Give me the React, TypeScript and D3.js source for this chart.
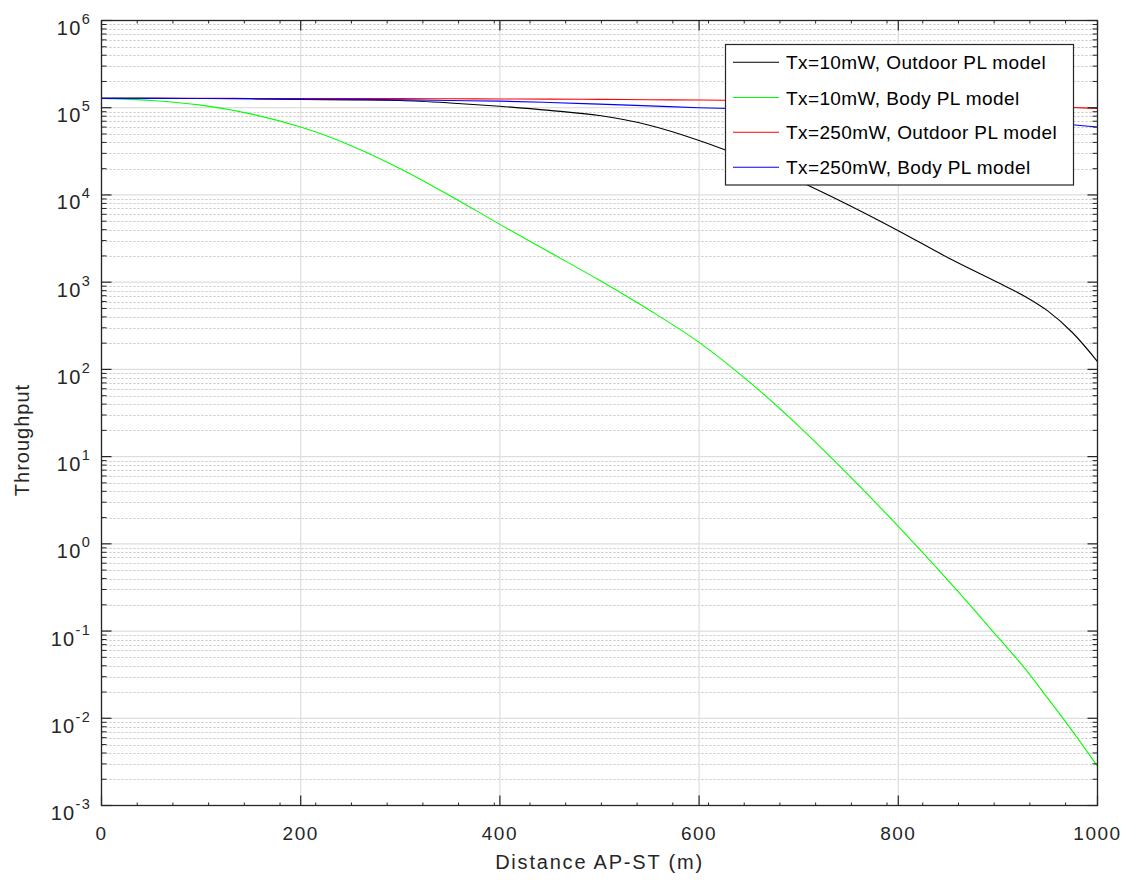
import React from "react";
import * as d3 from "d3";

const distance = [0, 50, 100, 150, 200, 250, 300, 350, 400, 450, 500, 550, 600, 650, 700, 750, 800, 850, 900, 925, 950, 975, 1000];

const tx10Outdoor = [127900, 127900, 127600, 126500, 124500, 123000, 121100, 113500, 104000, 93300, 81300, 63100, 42200, 25700, 14450, 7670, 3890, 1905, 990, 708, 468, 263, 123];
const tx10Body = [128000, 121000, 107000, 85000, 60000, 37000, 20000, 9800, 4600, 2200, 1050, 479, 204, 72.4, 22.4, 6.17, 1.585, 0.38, 0.085, 0.0398, 0.017, 0.00708, 0.00282];
const tx250Outdoor = [128000, 128000, 128000, 127800, 127500, 127200, 127000, 126500, 126000, 125500, 124500, 123500, 122500, 121000, 119000, 117000, 114000, 111000, 107000, 105000, 103000, 100500, 98000];
const tx250Body = [128000, 128000, 127500, 127000, 125500, 124500, 123000, 121000, 119000, 115000, 110000, 105000, 100000, 96500, 93000, 89000, 85000, 80000, 74000, 70800, 67500, 63800, 60000];

const seriesNames = [
  "Tx=10mW, Outdoor PL model",
  "Tx=10mW, Body PL model",
  "Tx=250mW, Outdoor PL model",
  "Tx=250mW, Body PL model",
];
const seriesColors = ["#000000", "#00ff00", "#ff0000", "#0000ff"];
const seriesValues = [tx10Outdoor, tx10Body, tx250Outdoor, tx250Body];

const xTicks = [0, 200, 400, 600, 800, 1000];
const yExponents = [-3, -2, -1, 0, 1, 2, 3, 4, 5, 6];
const xLabel = "Distance AP-ST (m)";
const yLabel = "Throughput";

const W = 1131;
const H = 884;
const L = 101.5, R = 1097.5, T = 20.5, B = 805.5;
const axisColor = "#262626";
const FONT = "'Liberation Sans', Arial, Helvetica, sans-serif";

export default function App() {
  const x = d3.scaleLinear().domain([0, 1000]).range([L, R]);
  const y = d3.scaleLog().domain([1e-3, 1e6]).range([B, T]);

  const minorY: number[] = [];
  yExponents.slice(0, -1).forEach((e) => {
    for (let k = 2; k <= 9; k++) minorY.push(k * Math.pow(10, e));
  });
  const minorX = d3.range(35.85, 1000, 35.85);

  const line = d3
    .line<[number, number]>()
    .x((d) => x(d[0]))
    .y((d) => y(d[1]))
    .curve(d3.curveCatmullRom.alpha(0.5));

  const legX = 725.5, legY = 44.5, legW = 348, legH = 140.5;
  const rowY = [62.3, 97.5, 132.3, 167.3];

  return (
    <svg width={W} height={H} style={{ position: "absolute", left: 0, top: 0, background: "#fff" }} fontFamily={FONT}>
      <rect x={0} y={0} width={W} height={H} fill="#fff" />
      <rect x={L} y={T} width={R - L} height={B - T} fill="#fff" />
      {minorY.map((v, i) => (
        <line key={"mg" + i} x1={L} x2={R} y1={Math.round(y(v)) + 0.5} y2={Math.round(y(v)) + 0.5} stroke="#c4c4c4" strokeWidth={1} strokeDasharray="2,2" />
      ))}
      {yExponents.map((e) => (
        <line key={"yg" + e} x1={L} x2={R} y1={y(Math.pow(10, e))} y2={y(Math.pow(10, e))} stroke="#dedede" strokeWidth={1.2} />
      ))}
      {xTicks.map((t) => (
        <line key={"xg" + t} x1={x(t)} x2={x(t)} y1={T} y2={B} stroke="#dedede" strokeWidth={1.2} />
      ))}
      {seriesValues.map((vals, si) => (
        <path
          key={"s" + si}
          d={line(distance.map((d, i) => [d, vals[i]] as [number, number])) || ""}
          fill="none"
          stroke={seriesColors[si]}
          strokeWidth={1.1}
        />
      ))}
      <rect x={L} y={T} width={R - L} height={B - T} fill="none" stroke={axisColor} strokeWidth={1.3} />
      {xTicks.map((t) => (
        <g key={"xt" + t}>
          <line x1={x(t)} x2={x(t)} y1={B} y2={B - 10} stroke={axisColor} strokeWidth={1.2} />
          <line x1={x(t)} x2={x(t)} y1={T} y2={T + 10} stroke={axisColor} strokeWidth={1.2} />
          <text x={x(t)} y={840} textAnchor="middle" fontSize={19} fill={axisColor} letterSpacing={1.5}>
            {t}
          </text>
        </g>
      ))}
      {minorX.map((t, i) => (
        <g key={"xm" + i}>
          <line x1={x(t)} x2={x(t)} y1={B} y2={B - 3} stroke={axisColor} strokeWidth={1} />
          <line x1={x(t)} x2={x(t)} y1={T} y2={T + 3} stroke={axisColor} strokeWidth={1} />
        </g>
      ))}
      {yExponents.map((e) => {
        const yy = y(Math.pow(10, e));
        return (
          <g key={"yt" + e}>
            <line x1={L} x2={L + 10} y1={yy} y2={yy} stroke={axisColor} strokeWidth={1.2} />
            <line x1={R} x2={R - 10} y1={yy} y2={yy} stroke={axisColor} strokeWidth={1.2} />
            <text x={91} y={yy + 14.5} textAnchor="end" fontSize={20} fill={axisColor} letterSpacing={1.3}>
              <tspan>10</tspan>
              <tspan dy={-11} fontSize={14.5}>{String(e)}</tspan>
            </text>
          </g>
        );
      })}
      {minorY.map((v, i) => (
        <g key={"ym" + i}>
          <line x1={L} x2={L + 5} y1={y(v)} y2={y(v)} stroke={axisColor} strokeWidth={1} />
          <line x1={R} x2={R - 5} y1={y(v)} y2={y(v)} stroke={axisColor} strokeWidth={1} />
        </g>
      ))}
      <text x={(L + R) / 2} y={869} textAnchor="middle" fontSize={20} fill={axisColor} letterSpacing={1.8}>
        {xLabel}
      </text>
      <text transform={`translate(29, 440) rotate(-90)`} textAnchor="middle" fontSize={20} fill={axisColor} letterSpacing={1}>
        {yLabel}
      </text>
      <rect x={legX} y={legY} width={legW} height={legH} fill="#fff" stroke={axisColor} strokeWidth={1.2} />
      {seriesNames.map((n, i) => (
        <g key={"lg" + i}>
          <line x1={733} x2={779} y1={rowY[i]} y2={rowY[i]} stroke={seriesColors[i]} strokeWidth={1.1} />
          <text x={786} y={rowY[i] + 7} fontSize={19} fill="#000" letterSpacing={0.4}>
            {n}
          </text>
        </g>
      ))}
    </svg>
  );
}
